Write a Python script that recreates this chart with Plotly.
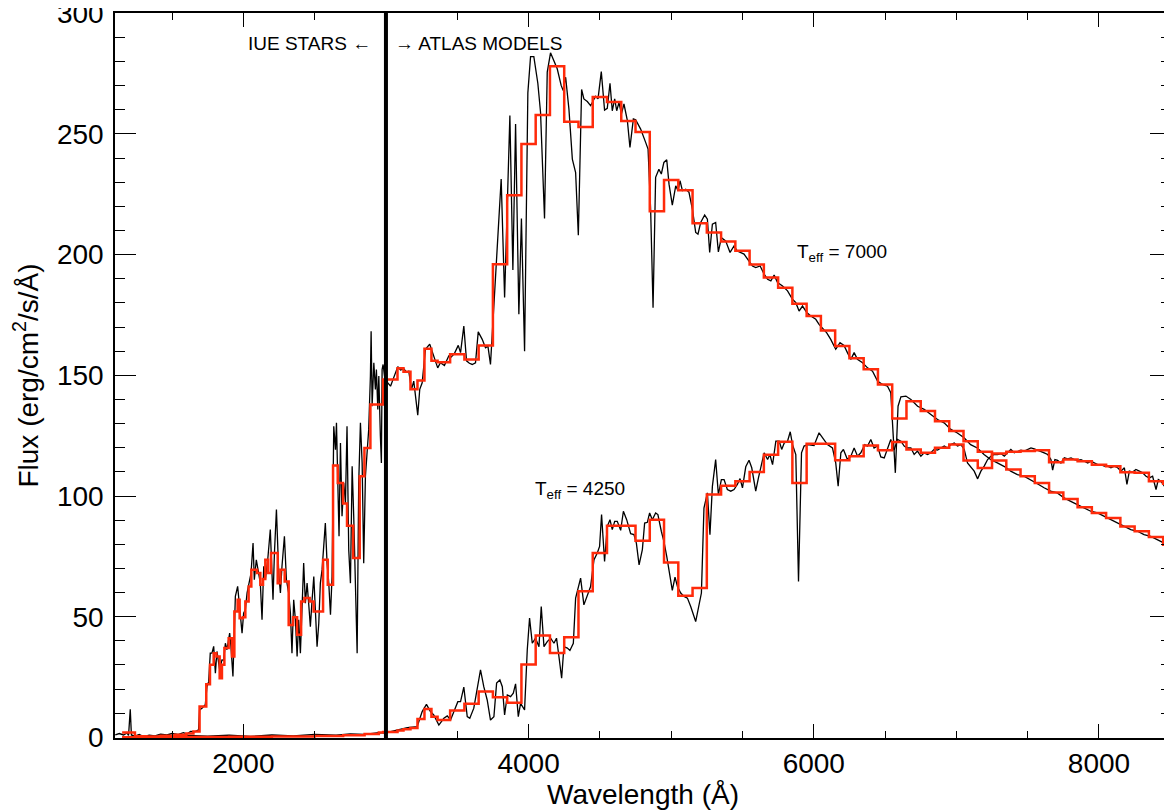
import plotly.graph_objects as go

# ------------------------------------------------------------------ data
# Teff = 7000 star : IUE part (black, high resolution)
wave_7000_iue = [1102, 1130, 1160, 1185, 1195, 1207, 1215, 1240, 1270, 1300, 1340, 1380, 1420, 1464,
                 1500, 1540, 1580, 1605, 1630, 1663, 1686, 1693, 1710, 1733, 1745, 1757, 1768, 1780,
                 1792, 1804, 1815, 1834, 1850, 1862, 1874, 1885, 1904, 1913, 1927, 1944, 1960, 1974,
                 1991, 2002, 2014, 2026, 2037, 2054, 2068, 2077, 2091, 2108, 2119, 2131, 2143, 2154,
                 2171, 2189, 2208, 2218, 2232, 2248, 2260, 2271, 2288, 2302, 2318, 2330, 2341, 2353,
                 2365, 2377, 2388, 2400, 2412, 2423, 2435, 2447, 2458, 2470, 2482, 2494, 2505, 2517,
                 2529, 2540, 2552, 2564, 2575, 2587, 2599, 2611, 2622, 2634, 2646, 2653, 2662, 2671,
                 2681, 2692, 2704, 2716, 2727, 2739, 2751, 2763, 2774, 2786, 2798, 2809, 2821, 2833,
                 2844, 2856, 2868, 2879, 2891, 2896, 2903, 2915, 2926, 2933, 2943, 2950, 2961, 2968,
                 2973, 2980, 2990]
flux_7000_iue = [1.0, 1.6, 1.0, 1.8, 0.8, 11.6, 1.0, 0.5, 1.2, 0.3, 0.9, 0.6, 1.3, 1.0,
                 1.6, 1.2, 2.0, 1.4, 2.5, 2.4, 3.1, 11.4, 12.1, 13.5, 21.1, 23.1, 34.9, 34.9,
                 37.7, 26.6, 35.6, 28.0, 32.1, 32.0, 39.0, 36.3, 43.2, 37.7, 25.2, 58.4, 62.6, 52.9,
                 43.2, 51.5, 52.9, 59.8, 62.6, 68.1, 80.5, 65.3, 73.6, 68.1, 63.9, 48.7, 70.9, 65.3,
                 73.6, 86.1, 57.0, 76.4, 94.4, 68.1, 59.8, 70.9, 83.3, 65.3, 59.8, 51.5, 34.9, 57.0,
                 48.7, 33.5, 48.7, 34.9, 56.9, 72.2, 55.6, 63.9, 55.6, 45.9, 56.9, 66.6, 52.8, 37.6,
                 47.3, 63.9, 69.4, 80.5, 88.8, 72.2, 63.9, 50.8, 66.6, 128.9, 119.2, 130.3, 102.6, 83.3,
                 122.0, 91.6, 105.4, 97.1, 128.9, 77.7, 63.9, 112.3, 91.6, 63.9, 34.9, 105.4, 130.3, 113.7,
                 72.2, 108.2, 116.4, 127.5, 149.7, 168.3, 137.2, 155.2, 144.1, 152.4, 135.8, 149.7, 124.8, 113.7,
                 152.4, 154.5, 149.7]

# Teff = 7000 star : ATLAS model part (black)
wave_7000_atlas = [3005, 3013, 3032, 3055, 3083, 3102, 3125, 3144, 3160, 3179, 3195, 3223, 3237, 3254,
                   3277, 3307, 3335, 3363, 3382, 3410, 3440, 3453, 3480, 3507, 3523, 3546, 3565, 3585,
                   3605, 3628, 3647, 3675, 3698, 3715, 3733, 3768, 3808, 3832, 3869, 3890, 3909, 3932,
                   3950, 3972, 3995, 4014, 4037, 4065, 4084, 4112, 4131, 4154, 4177, 4201, 4229, 4243,
                   4260, 4283, 4307, 4330, 4349, 4372, 4388, 4412, 4435, 4451, 4470, 4487, 4510, 4533,
                   4552, 4571, 4587, 4604, 4618, 4634, 4651, 4669, 4693, 4711, 4735, 4751, 4786, 4821,
                   4838, 4856, 4873, 4891, 4914, 4931, 4949, 4969, 4985, 5008, 5032, 5048, 5062, 5079,
                   5102, 5125, 5149, 5172, 5188, 5207, 5235, 5254, 5270, 5289, 5312, 5331, 5352, 5382,
                   5413, 5441, 5464, 5511, 5546, 5570, 5593, 5624, 5652, 5676, 5699, 5722, 5746, 5781,
                   5816, 5851, 5874, 5897, 5921, 5951, 5979, 6014, 6037, 6061, 6091, 6119, 6154, 6184,
                   6212, 6236, 6260, 6283, 6306, 6342, 6377, 6412, 6447, 6482, 6517, 6540, 6558, 6572,
                   6591, 6611, 6646, 6681, 6728, 6774, 6821, 6868, 6914, 6961, 7007, 7054, 7100, 7147,
                   7194, 7240, 7287, 7334, 7381, 7428, 7474, 7521, 7568, 7615, 7661, 7708, 7755, 7802,
                   7849, 7895, 7942, 7989, 8036, 8083, 8129, 8176, 8223, 8270, 8316, 8363, 8410, 8457,
                   8503]
flux_7000_atlas = [147.5, 146.9, 145.5, 149.0, 153.6, 152.2, 152.7, 151.3, 151.7, 144.2, 147.6, 133.5, 144.2, 146.9,
                   160.8, 162.9, 158.3, 153.1, 155.2, 154.1, 158.0, 157.3, 159.0, 162.4, 159.4, 170.4, 156.0, 155.0,
                   154.5, 155.2, 168.0, 164.9, 161.4, 162.1, 154.5, 188.4, 231.3, 182.2, 257.6, 193.6, 254.1, 175.3,
                   215.0, 160.0, 267.0, 282.0, 282.0, 271.0, 259.0, 215.0, 275.6, 283.6, 280.4, 277.0, 270.0, 268.0,
                   273.5, 260.3, 239.6, 234.0, 208.0, 268.4, 264.5, 263.4, 261.7, 263.8, 265.6, 264.5, 275.8, 259.9,
                   260.6, 271.0, 259.6, 264.5, 259.6, 263.0, 258.3, 262.4, 255.5, 244.4, 256.2, 255.9, 252.0, 246.5,
                   243.7, 218.8, 178.0, 232.0, 235.4, 233.4, 238.2, 239.3, 229.2, 220.5, 228.5, 226.5, 230.6, 226.5,
                   227.1, 225.8, 218.8, 209.2, 208.5, 213.3, 216.4, 214.7, 200.9, 212.6, 213.3, 201.1, 207.0, 205.7,
                   200.9, 203.6, 201.5, 200.2, 197.4, 195.3, 194.6, 195.3, 191.9, 189.8, 189.1, 191.5, 188.4, 187.0,
                   185.0, 181.5, 180.1, 176.6, 178.7, 176.0, 174.6, 173.2, 171.1, 169.7, 167.6, 164.9, 160.8, 163.5,
                   162.4, 159.4, 156.6, 159.4, 156.6, 155.2, 153.1, 151.7, 147.6, 146.2, 145.5, 142.8, 126.0, 109.6,
                   137.2, 141.1, 141.4, 140.0, 137.2, 135.9, 133.8, 131.7, 130.3, 127.6, 126.1, 124.1, 121.3, 119.9,
                   117.2, 115.1, 113.7, 112.3, 110.3, 108.9, 108.2, 106.8, 105.1, 103.4, 102.0, 101.3, 99.2, 97.8,
                   96.4, 95.1, 93.7, 93.0, 91.6, 90.2, 89.1, 87.4, 86.1, 85.4, 84.0, 83.3, 81.9, 80.5,
                   76.4]

# Teff = 4250 star : IUE part (black)
wave_4250_iue = [1150, 1300, 1450, 1600, 1750, 1900, 2050, 2200, 2350, 2500, 2650, 2750, 2850, 2950, 2990]
flux_4250_iue = [0.2, 0.5, 0.3, 0.8, 0.5, 0.9, 0.4, 1.0, 0.6, 1.2, 0.9, 1.5, 1.2, 2.0, 1.8]

# Teff = 4250 star : ATLAS model part (black)
wave_4250_atlas = [3005, 3032, 3102, 3150, 3219, 3254, 3284, 3312, 3335, 3371, 3406, 3430, 3453, 3481,
                   3504, 3523, 3546, 3570, 3588, 3616, 3663, 3686, 3710, 3733, 3757, 3776, 3799, 3816,
                   3832, 3851, 3874, 3893, 3909, 3928, 3944, 3972, 3991, 4007, 4026, 4049, 4073, 4089,
                   4108, 4131, 4155, 4178, 4196, 4213, 4232, 4248, 4272, 4290, 4314, 4330, 4365, 4388,
                   4417, 4435, 4459, 4482, 4498, 4512, 4533, 4552, 4571, 4587, 4604, 4622, 4646, 4665,
                   4688, 4716, 4739, 4756, 4775, 4798, 4814, 4833, 4849, 4868, 4891, 4907, 4931, 4949,
                   4969, 4987, 5008, 5027, 5044, 5067, 5090, 5114, 5137, 5172, 5195, 5212, 5230, 5254,
                   5272, 5289, 5312, 5331, 5352, 5371, 5394, 5418, 5441, 5464, 5483, 5500, 5523, 5546,
                   5565, 5593, 5612, 5628, 5652, 5676, 5692, 5711, 5734, 5758, 5775, 5793, 5816, 5835,
                   5851, 5874, 5893, 5914, 5932, 5956, 6002, 6037, 6068, 6096, 6131, 6154, 6171, 6190,
                   6208, 6236, 6260, 6283, 6307, 6330, 6358, 6377, 6400, 6423, 6447, 6470, 6494, 6517,
                   6540, 6563, 6587, 6611, 6634, 6657, 6681, 6704, 6727, 6751, 6774, 6798, 6821, 6844,
                   6868, 6891, 6915, 6938, 6961, 6985, 7008, 7032, 7055, 7078, 7102, 7125, 7149, 7172,
                   7195, 7219, 7242, 7265, 7289, 7312, 7336, 7359, 7382, 7406, 7429, 7453, 7476, 7499,
                   7523, 7546, 7569, 7593, 7616, 7640, 7663, 7675, 7691, 7710, 7733, 7757, 7780, 7804,
                   7827, 7850, 7874, 7897, 7921, 7944, 7967, 7991, 8014, 8037, 8061, 8084, 8107, 8131,
                   8154, 8178, 8196, 8213, 8236, 8259, 8283, 8306, 8330, 8353, 8376, 8400, 8416, 8435,
                   8458, 8482, 8505]
flux_4250_atlas = [1.9, 2.4, 3.4, 4.0, 4.5, 10.7, 13.7, 10.7, 9.3, 5.1, 7.9, 8.9, 7.2, 11.4,
                   14.8, 14.8, 20.8, 8.6, 7.9, 12.1, 28.0, 21.0, 15.5, 7.2, 8.6, 22.5, 23.8, 21.0,
                   9.3, 17.6, 16.9, 18.3, 22.2, 8.6, 14.1, 11.4, 36.3, 49.4, 39.0, 41.1, 37.6, 54.2,
                   37.6, 39.7, 41.1, 39.0, 41.1, 33.5, 24.5, 37.6, 37.0, 36.0, 39.0, 57.7, 66.0, 54.9,
                   59.8, 62.5, 73.6, 76.4, 79.1, 92.3, 72.9, 87.4, 90.2, 86.1, 89.5, 89.5, 85.8, 93.7,
                   90.2, 84.4, 84.0, 80.5, 71.5, 77.8, 88.8, 89.1, 93.0, 90.2, 93.0, 92.3, 85.4, 81.2,
                   75.0, 68.8, 60.9, 66.4, 62.5, 59.8, 58.4, 57.7, 54.2, 48.0, 54.2, 59.8, 95.0, 101.3,
                   84.0, 104.0, 115.1, 100.6, 106.8, 106.8, 102.7, 102.0, 102.7, 104.8, 107.2, 103.4, 112.1, 114.8,
                   111.7, 102.0, 107.5, 111.7, 117.9, 115.1, 117.2, 113.0, 122.7, 122.7, 119.3, 122.0, 122.7, 126.6,
                   121.3, 117.2, 64.6, 117.9, 120.7, 121.3, 120.9, 126.2, 123.4, 121.3, 119.9, 113.7, 104.1, 117.9,
                   119.3, 115.1, 116.5, 119.9, 116.5, 117.9, 121.3, 120.7, 123.4, 119.9, 120.7, 116.2, 115.8, 119.3,
                   123.4, 119.0, 123.4, 122.7, 120.7, 119.9, 119.9, 117.2, 118.6, 116.5, 117.9, 117.2, 117.9, 119.3,
                   119.0, 119.9, 120.7, 119.9, 121.3, 122.0, 120.7, 121.3, 119.3, 113.7, 111.7, 110.3, 107.1, 110.3,
                   112.4, 115.1, 116.5, 117.2, 117.2, 117.6, 116.5, 117.9, 119.3, 117.9, 118.6, 119.0, 118.6, 119.3,
                   119.9, 119.5, 119.0, 118.6, 117.9, 117.2, 115.1, 110.7, 115.1, 114.8, 113.7, 115.8, 115.4, 115.8,
                   115.1, 114.8, 115.1, 114.4, 113.7, 114.4, 113.7, 113.0, 113.0, 112.4, 112.4, 111.7, 112.4, 111.7,
                   110.3, 111.7, 104.8, 110.3, 109.9, 111.0, 110.3, 109.6, 108.2, 107.5, 108.2, 102.7, 106.8, 106.1,
                   104.1, 105.4, 102.7]

# Binned (red) spectra: left bin edges and bin values
bins_7000_iue = [1150, 1240, 1320, 1420, 1520, 1600, 1650, 1693, 1740, 1766, 1792, 1811, 1834, 1850,
                 1867, 1897, 1920, 1937, 1960, 1974, 1997, 2014, 2037, 2056, 2096, 2119, 2138, 2154,
                 2173, 2194, 2241, 2260, 2290, 2318, 2349, 2377, 2405, 2428, 2465, 2493, 2559, 2592,
                 2629, 2662, 2699, 2727, 2770, 2816, 2849, 2891]
binflux_7000_iue = [2.0, 0.5, 0.4, 0.7, 1.1, 1.6, 2.4, 12.8, 22.0, 30.1, 34.9, 33.5, 24.5, 30.1,
                    37.0, 41.1, 33.5, 52.2, 57.0, 49.4, 49.8, 56.3, 62.5, 69.5, 68.1, 63.2, 65.6, 73.6,
                    68.1, 76.4, 63.9, 69.5, 64.6, 46.6, 49.8, 42.5, 56.3, 57.7, 56.3, 52.2, 73.6, 63.2,
                    112.6, 105.4, 96.9, 87.7, 74.3, 108.2, 119.9, 137.9]

bins_4250_iue = [1150, 1500, 1900, 2200, 2500, 2700, 2850, 2950]
binflux_4250_iue = [0.1, 0.2, 0.3, 0.4, 0.6, 0.9, 1.4, 2.0]

bins_atlas = [2980, 3081, 3123, 3172, 3221, 3270, 3319, 3362,
              3450, 3550, 3650, 3750, 3850, 3950, 4050, 4150, 4250, 4350,
              4450, 4550, 4650, 4750, 4850, 4950, 5050, 5150, 5250, 5350,
              5450, 5550, 5650, 5750, 5850, 5950, 6050, 6150, 6250, 6350,
              6450, 6550, 6650, 6750, 6850, 6950, 7050, 7150, 7250, 7350,
              7450, 7550, 7650, 7750, 7850, 7950, 8050, 8150, 8250, 8350,
              8450]
bins_atlas_end = 8550
binflux_7000_atlas = [148.3, 152.9, 151.5, 144.2, 147.9, 161.0, 156.0, 155.4,
                      158.7, 156.6, 162.4, 196.0, 224.6, 245.8, 257.8, 278.0, 255.0, 252.9,
                      265.3, 263.2, 255.4, 250.8, 218.0, 230.9, 226.7, 213.0, 209.2, 205.4,
                      201.6, 195.9, 190.5, 186.3, 179.7, 174.6, 168.6, 162.1, 157.1, 152.5,
                      146.2, 132.1, 139.3, 135.2, 131.0, 126.9, 122.7, 118.3, 114.7, 111.0,
                      108.2, 105.4, 101.5, 98.8, 95.3, 93.0, 90.9, 87.4, 85.4, 83.0,
                      79.8]
binflux_4250_atlas = [2.2, 2.9, 3.4, 3.9, 7.6, 11.8, 8.6, 7.2,
                      11.1, 13.9, 19.0, 16.6, 14.4, 30.2, 42.2, 35.0, 41.5, 60.5,
                      76.4, 87.7, 87.7, 81.5, 90.2, 72.5, 58.7, 61.9, 100.6, 104.3,
                      106.1, 109.9, 117.1, 122.5, 105.4, 121.6, 121.6, 114.8, 116.5, 120.9,
                      119.0, 122.4, 119.3, 117.9, 120.0, 121.3, 114.7, 111.6, 117.6, 118.3,
                      118.6, 119.0, 114.0, 115.1, 114.4, 113.0, 112.3, 109.8, 109.6, 106.1,
                      105.1]

DIVIDER_WAVELENGTH = 3000
x_range = [1100, 8505]
y_range = [-0.25, 300.1]
x_title = "Wavelength (Å)"
y_title = "Flux (erg/cm<sup>2</sup>/s/Å)"
label_iue = "IUE STARS ←"
label_atlas = "→ ATLAS MODELS"
label_7000 = "T<sub>eff</sub> = 7000"
label_4250 = "T<sub>eff</sub> = 4250"

assert len(wave_7000_iue) == len(flux_7000_iue)
assert len(wave_7000_atlas) == len(flux_7000_atlas)
assert len(wave_4250_iue) == len(flux_4250_iue)
assert len(wave_4250_atlas) == len(flux_4250_atlas)
assert len(bins_7000_iue) == len(binflux_7000_iue)
assert len(bins_4250_iue) == len(binflux_4250_iue)
assert len(bins_atlas) == len(binflux_7000_atlas) == len(binflux_4250_atlas)

# ------------------------------------------------------------------ figure
FONT = "Liberation Sans, Arial, Helvetica, sans-serif"
BLACK = "#000000"
RED = "#ff2a0a"

fig = go.Figure()


def step_xy(edges, values, end):
    return list(edges) + [end], list(values) + [values[-1]]


# black high-resolution spectra
for w, f in [(wave_7000_iue + wave_7000_atlas, flux_7000_iue + flux_7000_atlas),
             (wave_4250_iue + wave_4250_atlas, flux_4250_iue + flux_4250_atlas)]:
    fig.add_trace(go.Scatter(x=w, y=f, mode="lines", line=dict(color=BLACK, width=1.3),
                             showlegend=False, hoverinfo="skip"))

# red binned spectra
for edges, vals in [(bins_7000_iue + bins_atlas, binflux_7000_iue + binflux_7000_atlas),
                    (bins_4250_iue + bins_atlas, binflux_4250_iue + binflux_4250_atlas)]:
    sx, sy = step_xy(edges, vals, bins_atlas_end)
    fig.add_trace(go.Scatter(x=sx, y=sy, mode="lines", line=dict(color=RED, width=2.5, shape="hv"),
                             showlegend=False, hoverinfo="skip"))

# divider between IUE and ATLAS
fig.add_shape(type="line", x0=DIVIDER_WAVELENGTH, x1=DIVIDER_WAVELENGTH, y0=0, y1=1,
              xref="x", yref="paper", line=dict(color=BLACK, width=4), layer="above")

ann_font = dict(family=FONT, size=19, color=BLACK)
fig.add_annotation(x=2909, y=287.6, text=label_iue, showarrow=False, xanchor="right",
                   yanchor="middle", font=ann_font)
fig.add_annotation(x=3050, y=287.6, text=label_atlas, showarrow=False, xanchor="left",
                   yanchor="middle", font=ann_font)
fig.add_annotation(x=5867, y=200.5, text=label_7000, showarrow=False, xanchor="left",
                   yanchor="middle", font=ann_font)
fig.add_annotation(x=4031, y=102.5, text=label_4250, showarrow=False, xanchor="left",
                   yanchor="middle", font=ann_font)

axis_common = dict(showgrid=False, zeroline=False, showline=True, linecolor=BLACK, linewidth=1.5,
                   mirror="allticks", ticks="inside", tickcolor=BLACK, tickwidth=1.3,
                   automargin=False, ticklabeloverflow="allow",
                   tickfont=dict(family=FONT, size=28, color=BLACK))

fig.update_xaxes(range=x_range, tick0=0, dtick=2000, ticklen=14,
                 minor=dict(dtick=500, ticklen=7, ticks="inside", tickcolor=BLACK, tickwidth=1.3),
                 title=dict(text=x_title, font=dict(family=FONT, size=28, color=BLACK), standoff=2),
                 ticklabelstandoff=0, **axis_common)
fig.update_yaxes(range=y_range, tick0=0, dtick=50, ticklen=21,
                 minor=dict(dtick=10, ticklen=10, ticks="inside", tickcolor=BLACK, tickwidth=1.3),
                 title=dict(text=y_title, font=dict(family=FONT, size=28, color=BLACK), standoff=14),
                 ticklabelstandoff=4, **axis_common)

# the page adds an 8 px body margin: margins below are chosen so the plot
# area lands at the same window position as in the reference
fig.update_layout(width=1172, height=811, margin=dict(l=107, r=9, t=5, b=81),
                  plot_bgcolor="white", paper_bgcolor="white", showlegend=False)

fig.write_html("out.html")
